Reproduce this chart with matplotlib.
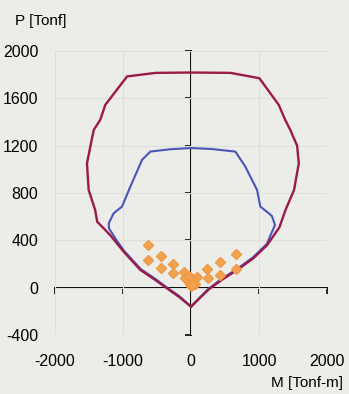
import matplotlib.pyplot as plt

# Interaction curve (outer, red) - M [Tonf-m], P [Tonf]
red_m = [0, 260, 450, 680, 920, 1120, 1300, 1390, 1515, 1585, 1560, 1460, 1385, 1290,
         1005, 580, 0, -520, -940, -1260, -1335, -1430, -1460, -1530, -1505, -1410,
         -1380, -1190, -990, -745, -525, -355, -180, 0]
red_p = [-160, -15, 65, 150, 250, 360, 510, 657, 825, 1050, 1200, 1333, 1418, 1545,
         1770, 1815, 1818, 1815, 1785, 1545, 1418, 1333, 1250, 1050, 826, 657,
         558, 445, 304, 150, 65, -5, -76, -160]

# Interaction curve (inner, blue)
blue_m = [0, 255, 445, 675, 915, 1115, 1235, 1190, 1142, 1020, 971, 799, 652, 300, 0,
          -300, -598, -720, -892, -1015, -1137, -1210, -1205, -1100, -985, -740,
          -520, -350, -175, 0]
blue_p = [-160, -10, 72, 158, 258, 370, 530, 605, 629, 685, 826, 1023, 1150, 1172,
          1180, 1170, 1150, 1080, 854, 685, 629, 544, 500, 405, 312, 158, 72,
          0, -70, -160]

# Load combinations
pts_m = [-630, -630, -445, -440, -262, -258, -110, -85, 95, 238, 245, 420, 430,
         655, 660, -40, -10, 15, 35, 55, 5, -25, 20]
pts_p = [360, 236, 265, 170, 202, 126, 135, 80, 93, 160, 79, 217, 110,
         286, 160, 60, 30, 50, 72, 35, 15, 100, 20]

x_ticks = [-2000, -1000, 0, 1000, 2000]
y_ticks = [-400, 0, 400, 800, 1200, 1600, 2000]

bg = '#ecece8'
plt.rcParams.update({
    "font.family": "Liberation Sans",
    "font.size": 11.5,
    "axes.unicode_minus": False,
})

fig = plt.figure(figsize=(3.49, 3.94), dpi=100, facecolor=bg)
ax = fig.add_axes([0.1576, 0.1497, 0.937 - 0.1576, 0.8706 - 0.1497], facecolor=bg)

ax.grid(True, color='#dedede', linewidth=0.8)
ax.set_axisbelow(True)

ax.plot(blue_m, blue_p, color='#4a55b8', linewidth=1.5, zorder=3)
ax.plot(red_m, red_p, color='#9a1a48', linewidth=1.7, zorder=4)
ax.plot(pts_m, pts_p, linestyle='none', marker='D', markersize=5,
        color='#f2a24e', markeredgecolor='#ee9a44', zorder=5)

ax.set_xlim(-2000, 2000)
ax.set_ylim(-400, 2000)
ax.set_xticks(x_ticks)
ax.set_yticks(y_ticks)
for s in ax.spines.values():
    s.set_visible(False)
ax.tick_params(length=0, pad=12)
ax.tick_params(axis='x', pad=14)

# axis lines through the origin
sx = ax.secondary_xaxis(1 / 6)
sx.set_alignment('bottom')
sx.set_xticks(x_ticks)
sx.tick_params(direction='out', length=4, width=1.2, labelbottom=False, labeltop=False)
sx.spines['bottom'].set_linewidth(1.4)
sy = ax.secondary_yaxis(0.5)
sy.set_alignment('left')
sy.set_yticks(y_ticks)
sy.tick_params(direction='out', length=4, width=1.2, labelleft=False, labelright=False)
sy.spines['left'].set_linewidth(1.4)

fig.text(0.118, 0.947, "P [Tonf]", ha='center', va='center', fontsize=11)
fig.text(0.983, 0.028, "M [Tonf-m]", ha='right', va='center', fontsize=11)

plt.savefig("out.png", dpi=100, facecolor=bg)
